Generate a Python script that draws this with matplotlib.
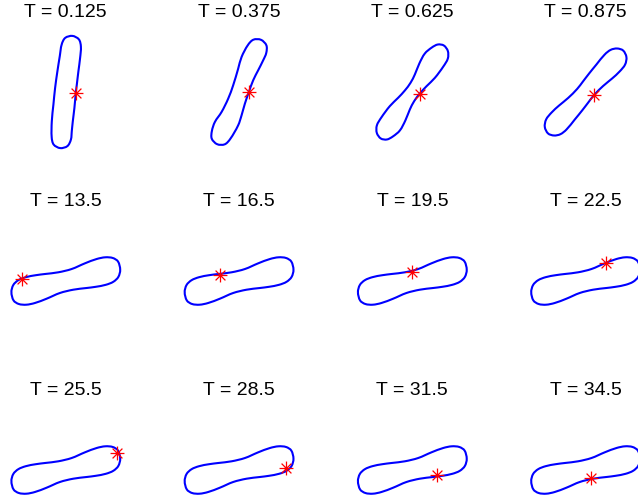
import numpy as np
import matplotlib
matplotlib.use("Agg")
import matplotlib.pyplot as plt
from matplotlib.path import Path
from matplotlib.patches import PathPatch

# Snapshot times shown in each panel (row-major, 3 x 4 grid)
times = [0.125, 0.375, 0.625, 0.875,
         13.5, 16.5, 19.5, 22.5,
         25.5, 28.5, 31.5, 34.5]

# Vesicle membrane outlines (x, y) relative to the vesicle centre
shape_t0125 = [(-4.1, 47.6), (-0.6, 54.1), (6.6, 56.1), (13.1, 52.6), (15.1, 45.4),
               (14.3, 34.0), (12.6, 20.7), (11.0, 7.3), (10.0, -1.0), (8.6, -16.0),
               (7.0, -29.3), (6.0, -39.0), (5.1, -47.6), (1.6, -54.1), (-5.6, -56.1),
               (-12.1, -52.6), (-14.1, -45.4), (-14.0, -29.3), (-12.4, -12.7),
               (-10.7, 4.0), (-8.4, 20.7), (-6.0, 36.0)]
shape_t0375 = [(8.8, 46.9), (14.3, 52.3), (21.9, 52.2), (27.3, 46.7), (27.2, 39.1),
               (24.1, 31.7), (19.1, 21.7), (14.1, 11.7), (9.8, 0.0), (5.8, -11.7),
               (2.5, -23.3), (-0.9, -33.3),
               (-8.8, -46.9), (-14.3, -52.3), (-21.9, -52.2), (-27.3, -46.7),
               (-27.2, -39.1), (-24.2, -30.0), (-17.5, -20.0), (-10.9, -6.7),
               (-5.9, 6.7), (-0.9, 23.3), (2.5, 35.0)]
shape_t0625 = [(19.5, 44.5), (25.5, 47.5), (31.5, 46.5), (35.5, 41.0), (35.5, 33.5),
               (31.0, 25.5), (22.5, 14.1), (14.2, 5.8), (7.5, -1.5), (1.8, -9.2),
               (-2.5, -17.5), (-7.0, -28.5), (-12.5, -38.5),
               (-19.5, -44.5), (-25.5, -47.5), (-31.5, -46.5), (-35.5, -41.0),
               (-35.5, -33.5), (-31.0, -25.5), (-22.5, -14.1), (-14.2, -5.8),
               (-7.5, 1.5), (-1.8, 9.2), (2.5, 17.5), (7.0, 28.5), (12.5, 38.5)]
shape_t0875 = [(19.2, 37.6), (25.2, 42.2), (31.5, 43.5), (37.5, 41.5), (40.8, 35.0),
               (39.5, 27.5), (34.0, 20.5), (26.5, 13.5), (17.5, 6.0), (8.5, -3.0),
               (2.5, -10.7), (-3.5, -18.5), (-10.9, -27.6),
               (-19.2, -37.6), (-25.2, -42.2), (-31.5, -43.5), (-37.5, -41.5),
               (-40.8, -35.0), (-39.5, -27.5), (-34.0, -20.5), (-26.5, -13.5),
               (-17.5, -6.0), (-8.5, 3.0), (-2.5, 10.7), (3.5, 18.5), (10.9, 27.6)]
# Steady tank-treading shape (same for every later snapshot)
shape_steady = [(-54.4, -11.2), (-52.5, -4.0), (-47.5, 0.8), (-40.0, 3.8), (-30.0, 5.8),
                (-20.8, 7.0), (-7.5, 8.7), (5.9, 12.0), (19.2, 17.7), (30.9, 22.0),
                (39.5, 23.7), (47.0, 23.0), (52.2, 19.5),
                (54.4, 11.2), (52.5, 4.0), (47.5, -0.8), (40.0, -3.8), (30.0, -5.8),
                (20.8, -7.0), (7.5, -8.7), (-5.9, -12.0), (-19.2, -17.7), (-30.9, -22.0),
                (-39.5, -23.7), (-47.0, -23.0), (-52.2, -19.5)]

shapes = [shape_t0125, shape_t0375, shape_t0625, shape_t0875] + [shape_steady] * 8

# Position of the tracked membrane point in each snapshot
tracer_x = [10.0, 9.8, 7.5, 8.5, -43.5, -19.5, 0.1, 20.8, 51.5, 47.2, 25.1, 5.2]
tracer_y = [-1.0, 0.0, -1.5, -3.0, 2.5, 6.0, 9.0, 18.4, 17.3, 1.7, -5.0, -8.3]


def closed_curve(points):
    """Smooth closed Bezier path through the outline points (chord-length tangents)."""
    p = np.asarray(points, dtype=float)
    n = len(p)
    d = np.linalg.norm(np.roll(p, -1, axis=0) - p, axis=1)  # d[i] = |p[i+1] - p[i]|
    tang = np.empty_like(p)
    for i in range(n):
        tang[i] = (p[(i + 1) % n] - p[i - 1]) / (d[i - 1] + d[i])
    verts = [p[0]]
    codes = [Path.MOVETO]
    for i in range(n):
        j = (i + 1) % n
        verts += [p[i] + tang[i] * d[i] / 3.0, p[j] - tang[j] * d[i] / 3.0, p[j]]
        codes += [Path.CURVE4] * 3
    return Path(verts, codes)


# 8-armed asterisk marker
arm = []
acodes = []
for ang in np.deg2rad([0, 45, 90, 135]):
    c, s = np.cos(ang), np.sin(ang)
    arm += [(-c, -s), (c, s)]
    acodes += [Path.MOVETO, Path.LINETO]
asterisk = Path(arm, acodes)

plt.rcParams["font.family"] = ["Liberation Sans", "DejaVu Sans"]

FW, FH = 638, 501
fig = plt.figure(figsize=(FW / 100, FH / 100), dpi=100)
fig.patch.set_facecolor("white")

W, H = 173.0, 150.0
col_x = 65.8
col_step = 173.27
row_y = 92.0
row_step = 189.0

for k in range(12):
    r, c = divmod(k, 4)
    cx = col_x + c * col_step
    cy = row_y + r * row_step
    ax = fig.add_axes([(cx - W / 2) / FW, (FH - cy - H / 2) / FH, W / FW, H / FH])
    ax.set_xlim(-W / 2, W / 2)
    ax.set_ylim(-H / 2, H / 2)
    ax.axis("off")
    ax.add_patch(PathPatch(closed_curve(shapes[k]), facecolor="none",
                           edgecolor=(0, 0, 1), lw=1.5, joinstyle="round"))
    ax.plot([tracer_x[k]], [tracer_y[k]], linestyle="none", marker=asterisk,
            markersize=10, markeredgewidth=0.9, color=(1, 0, 0), zorder=5)
    ax.set_title("T = {:g}".format(times[k]), fontsize=14, y=1.0, pad=0, color="black")

fig.savefig("out.png", dpi=100, facecolor="white")
